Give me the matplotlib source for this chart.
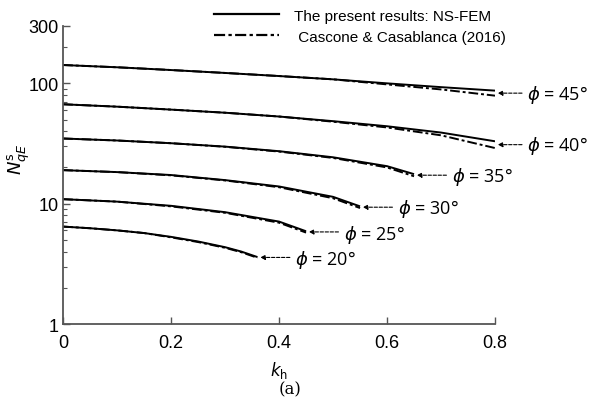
import numpy as np
import matplotlib.pyplot as plt

plt.rcParams['font.family'] = ['Liberation Sans', 'DejaVu Sans']
plt.rcParams['mathtext.fontset'] = 'dejavusans'

# bearing capacity factor vs horizontal seismic coefficient
phi = [45, 40, 35, 30, 25, 20]

k45 = [0, 0.1, 0.2, 0.3, 0.4, 0.5, 0.6, 0.7, 0.8]
nsfem45 = [142, 136, 129, 122, 115, 108, 100, 93, 87]
cc45 = [142, 136, 129, 122, 115, 108, 98, 89, 79]

k40 = [0, 0.1, 0.2, 0.3, 0.4, 0.5, 0.6, 0.7, 0.8]
nsfem40 = [67, 64, 60.5, 57, 53, 48.5, 44, 39, 33]
cc40 = [67, 64, 60.5, 57, 53, 48, 43, 37, 29]

k35 = [0, 0.1, 0.2, 0.3, 0.4, 0.5, 0.6, 0.65]
nsfem35 = [34.8, 33.5, 31.8, 29.8, 27.3, 24.3, 20.5, 17.6]
cc35 = [34.8, 33.5, 31.8, 29.7, 27.1, 24.0, 20.0, 16.9]

k30 = [0, 0.1, 0.2, 0.3, 0.4, 0.5, 0.55]
nsfem30 = [19.0, 18.3, 17.3, 15.7, 13.9, 11.4, 9.5]
cc30 = [19.0, 18.3, 17.2, 15.6, 13.7, 11.1, 9.2]

k25 = [0, 0.1, 0.2, 0.3, 0.4, 0.45]
nsfem25 = [10.9, 10.4, 9.6, 8.5, 7.1, 5.9]
cc25 = [10.9, 10.4, 9.5, 8.4, 6.95, 5.75]

k20 = [0, 0.05, 0.1, 0.15, 0.2, 0.25, 0.3, 0.33, 0.36]
nsfem20 = [6.45, 6.25, 6.0, 5.7, 5.3, 4.85, 4.35, 4.0, 3.6]
cc20 = [6.45, 6.25, 6.0, 5.7, 5.25, 4.8, 4.3, 3.95, 3.55]

ks = [k45, k40, k35, k30, k25, k20]
nsfem = [nsfem45, nsfem40, nsfem35, nsfem30, nsfem25, nsfem20]
cc = [cc45, cc40, cc35, cc30, cc25, cc20]

fig = plt.figure(figsize=(5.9, 4.02), dpi=100)
ax = fig.add_axes([0.107, 0.1915, 0.732, 0.7415])

dashdot = (0, (5, 1.5, 1.5, 1.5))
for k, a, b in zip(ks, nsfem, cc):
    ax.plot(k, a, color='black', lw=1.4, solid_capstyle='butt')
    ax.plot(k, b, color='black', lw=1.4, ls=dashdot)

# labels with arrows pointing at the end of each curve
label_off = [(0.05, -0.01), (0.05, 0), (0.06, -0.01), (0.06, -0.01), (0.06, -0.02), (0.06, -0.01)]
for p, k, a, b, (dx, dy) in zip(phi, ks, nsfem, cc, label_off):
    xe = k[-1]
    ye = np.sqrt(a[-1] * b[-1])
    ax.annotate('', xy=(xe + 0.005, ye), xytext=(xe + dx, ye),
                annotation_clip=False,
                arrowprops=dict(arrowstyle='-|>', ls=(0, (3, 1.5)), lw=0.8,
                                color='black', mutation_scale=7,
                                shrinkA=0, shrinkB=0))
    ax.text(xe + dx + 0.01, ye * 10**dy, '$\\phi$ = %d°' % p,
            fontsize=13, va='center', ha='left', family=['Open Sans', 'DejaVu Sans'])

ax.set_yscale('log')
ax.set_xlim(0, 0.8)
ax.set_ylim(1, 300)
ax.set_xticks([0, 0.2, 0.4, 0.6, 0.8])
ax.set_xticklabels(['0', '0.2', '0.4', '0.6', '0.8'])
ax.set_yticks([1, 10, 100, 300])
ax.set_yticklabels(['1', '10', '100', '300'])
ax.tick_params(direction='in', labelsize=13, length=5, width=1, color='#555555')
ax.tick_params(which='minor', direction='in', length=3, width=0.8, color='#555555')
ax.tick_params(axis='x', pad=7)
ax.tick_params(axis='y', pad=3)
for s in ['top', 'right']:
    ax.spines[s].set_visible(False)
for s in ['left', 'bottom']:
    ax.spines[s].set_color('#555555')
    ax.spines[s].set_linewidth(1.3)

ax.set_xlabel('$k_\\mathrm{h}$', fontsize=12, labelpad=6)
ax.set_ylabel('$N_{qE}^{\\mathrm{s}}$', fontsize=13)
ax.yaxis.set_label_coords(-0.072, 0.555)
fig.text(0.492, 0.02, '(a)', fontsize=12, family='DejaVu Serif', ha='center')

h1, = ax.plot([], [], color='black', lw=1.6)
h2, = ax.plot([], [], color='black', lw=1.6, ls=dashdot)
fig.legend([h1, h2], ['The present results: NS-FEM', ' Cascone & Casablanca (2016)'],
           loc='upper left', bbox_to_anchor=(0.34, 1.01), frameon=False,
           fontsize=11, handlelength=4.2, handletextpad=1.0, labelspacing=0.45)

fig.savefig('out.png', dpi=100)
